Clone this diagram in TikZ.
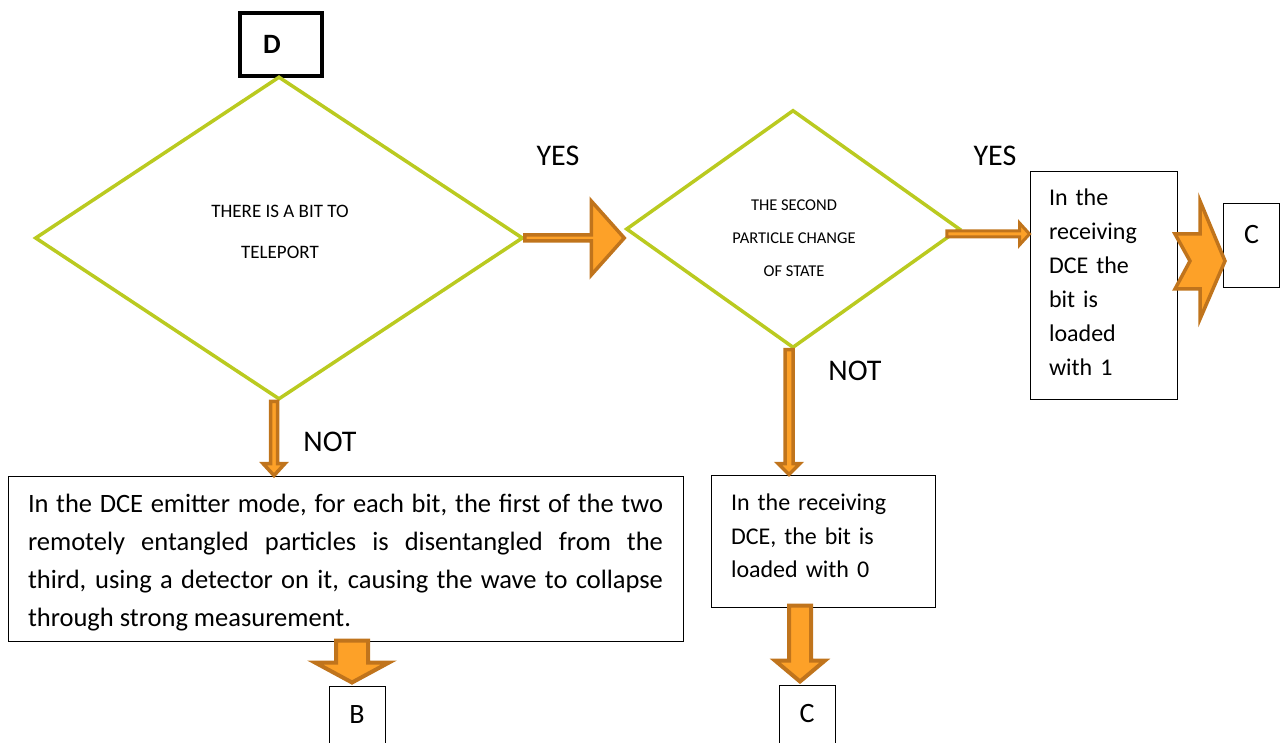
\documentclass[tikz,border=0pt]{standalone}
\usepackage{fontspec}
\setmainfont{Carlito}
\usetikzlibrary{shapes.geometric,calc}
\definecolor{dgreen}{RGB}{186,202,32}
\definecolor{abrown}{RGB}{192,116,28}
\definecolor{aorange}{RGB}{253,161,40}
\begin{document}
\begin{tikzpicture}[x=1pt,y=-1pt,
  dec/.style={diamond, draw=dgreen, line width=3.5pt, inner sep=0pt},
  dectext/.style={inner sep=0pt, align=center},
  txtbox/.style={draw=black, line width=1pt, rectangle, inner ysep=0pt},
  lbl/.style={font=\fontsize{30}{36}\selectfont, inner sep=0pt},
  thinarrow/.style={fill=aorange, draw=abrown, line width=3.5pt, line join=miter},
  blockarrow/.style={fill=aorange, draw=abrown, line width=4pt, line join=miter},
  letterbox/.style={draw=black, line width=1pt, rectangle, inner sep=0pt, font=\fontsize{28}{32}\selectfont}
]
\useasboundingbox (0,0) rectangle (1280,743);

% start box
\node[draw=black, line width=4pt, minimum width=82pt, minimum height=63pt, inner xsep=23pt,
      text width=36pt, align=left, font=\fontsize{28}{32}\selectfont\bfseries] (d) at (281,44.5) {D};

% decisions
\node[dec, minimum width=488pt, minimum height=323pt] (d1) at (279,238) {};
\node[dectext, font=\fontsize{19}{41}\selectfont] (d1t) at ($(d1)+(1,-6)$) {THERE IS A BIT TO\\TELEPORT};
\node[dec, minimum width=334pt, minimum height=238pt] (d2) at (793,229) {};
\node[dectext, font=\fontsize{16.5}{33}\selectfont] (d2t) at ($(d2)+(1,9)$) {THE SECOND\\PARTICLE CHANGE\\OF STATE};

% process boxes
\node[txtbox, minimum width=675pt, minimum height=165pt, inner xsep=20pt, text width=635pt,
      align=justify, font=\fontsize{26.5}{38}\selectfont] (big) at (345.5,558.5)
  {\rule{0pt}{27pt}In the DCE emitter mode, for each bit, the first of the two\linebreak
   remotely entangled particles is disentangled from the\linebreak
   third, using a detector on it, causing the wave to collapse\linebreak
   through strong measurement.};
\node[txtbox, minimum width=224pt, minimum height=132pt, inner xsep=20pt, text width=184pt,
      align=left, font=\fontsize{24}{33.5}\selectfont] (box2) at (823,541)
  {In the receiving\\DCE, the bit is\\loaded with 0\rule[-10pt]{0pt}{0pt}};
\node[txtbox, minimum width=147pt, minimum height=227pt, inner xsep=19pt, text width=109pt,
      align=left, font=\fontsize{24}{34}\selectfont] (r1) at (1103.5,285.5)
  {In the\\receiving\\DCE the\\bit is\\loaded\\with 1\rule[-6pt]{0pt}{0pt}};

% connector boxes
\node[letterbox, minimum width=56pt, minimum height=84pt, text depth=24pt] (c1) at (1251.5,246) {C};
\node[letterbox, minimum width=56pt, minimum height=57pt] (b) at (357,714.5) {B};
\node[letterbox, minimum width=56pt, minimum height=58pt] (c2) at (807,714) {C};

% labels
\node[lbl] (yes1) at (558,156) {YES};
\node[lbl] (yes2) at (995,156) {YES};
\node[lbl] (not1) at (330,442) {NOT};
\node[lbl] (not2) at (855,371) {NOT};

% arrow d1 -> d2 (YES)
\coordinate (s1) at (d1.east);
\coordinate (t1) at (d1.east -| d2.west);
\draw[thinarrow] ($(s1)+(0,-3)$) -- ($(t1)+(-33,-3)$) -- ($(t1)+(-33,-37)$) -- (t1)
  -- ($(t1)+(-33,37)$) -- ($(t1)+(-33,3)$) -- ($(s1)+(0,3)$) -- cycle;

% arrow d2 -> r1 (YES)
\coordinate (s2) at ($(d2.east)+(-15,5)$);
\coordinate (t2) at (s2 -| r1.west);
\draw[thinarrow, line width=3pt] ($(s2)+(0,-3)$) -- ($(t2)+(-10,-3)$) -- ($(t2)+(-10,-11)$) -- (t2)
  -- ($(t2)+(-10,11)$) -- ($(t2)+(-10,3)$) -- ($(s2)+(0,3)$) -- cycle;

% arrow d1 -> big (NOT)
\coordinate (s3) at ($(d1.south)+(-5,0)$);
\coordinate (t3) at (s3 |- big.north);
\draw[thinarrow] ($(s3)+(-3.5,0)$) -- ($(t3)+(-3.5,-12)$) -- ($(t3)+(-11,-12)$) -- (t3)
  -- ($(t3)+(11,-12)$) -- ($(t3)+(3.5,-12)$) -- ($(s3)+(3.5,0)$) -- cycle;

% arrow d2 -> box2 (NOT)
\coordinate (s4) at ($(d2.south)+(-4,0)$);
\coordinate (t4) at (s4 |- box2.north);
\draw[thinarrow] ($(s4)+(-4,0)$) -- ($(t4)+(-4,-11)$) -- ($(t4)+(-11,-11)$) -- (t4)
  -- ($(t4)+(11,-11)$) -- ($(t4)+(4,-11)$) -- ($(s4)+(4,0)$) -- cycle;

% arrow big -> B
\coordinate (t5) at ($(b.north)+(-5,-3)$);
\coordinate (s5) at ($(t5 |- big.south)+(0,-1)$);
\draw[blockarrow] ($(s5)+(-16,0)$) -- ($(t5)+(-16,-20)$) -- ($(t5)+(-37,-20)$) -- (t5)
  -- ($(t5)+(37,-20)$) -- ($(t5)+(16,-20)$) -- ($(s5)+(16,0)$) -- cycle;

% arrow box2 -> C
\coordinate (t6) at ($(c2.north)+(-7,-3)$);
\coordinate (s6) at ($(t6 |- box2.south)+(0,-2)$);
\draw[blockarrow] ($(s6)+(-11,0)$) -- ($(t6)+(-11,-21)$) -- ($(t6)+(-25,-21)$) -- (t6)
  -- ($(t6)+(25,-21)$) -- ($(t6)+(11,-21)$) -- ($(s6)+(11,0)$) -- cycle;

% chevron arrow r1 -> c1
\coordinate (t7) at ($(c1.west)+(2,15)$);
\draw[blockarrow, line width=3.5pt] ($(t7)+(-50,-27)$) -- ($(t7)+(-25,-27)$) -- ($(t7)+(-25,-60)$) -- (t7)
  -- ($(t7)+(-25,58)$) -- ($(t7)+(-25,28)$) -- ($(t7)+(-50,28)$) -- ($(t7)+(-35,0)$) -- cycle;
\end{tikzpicture}
\end{document}
